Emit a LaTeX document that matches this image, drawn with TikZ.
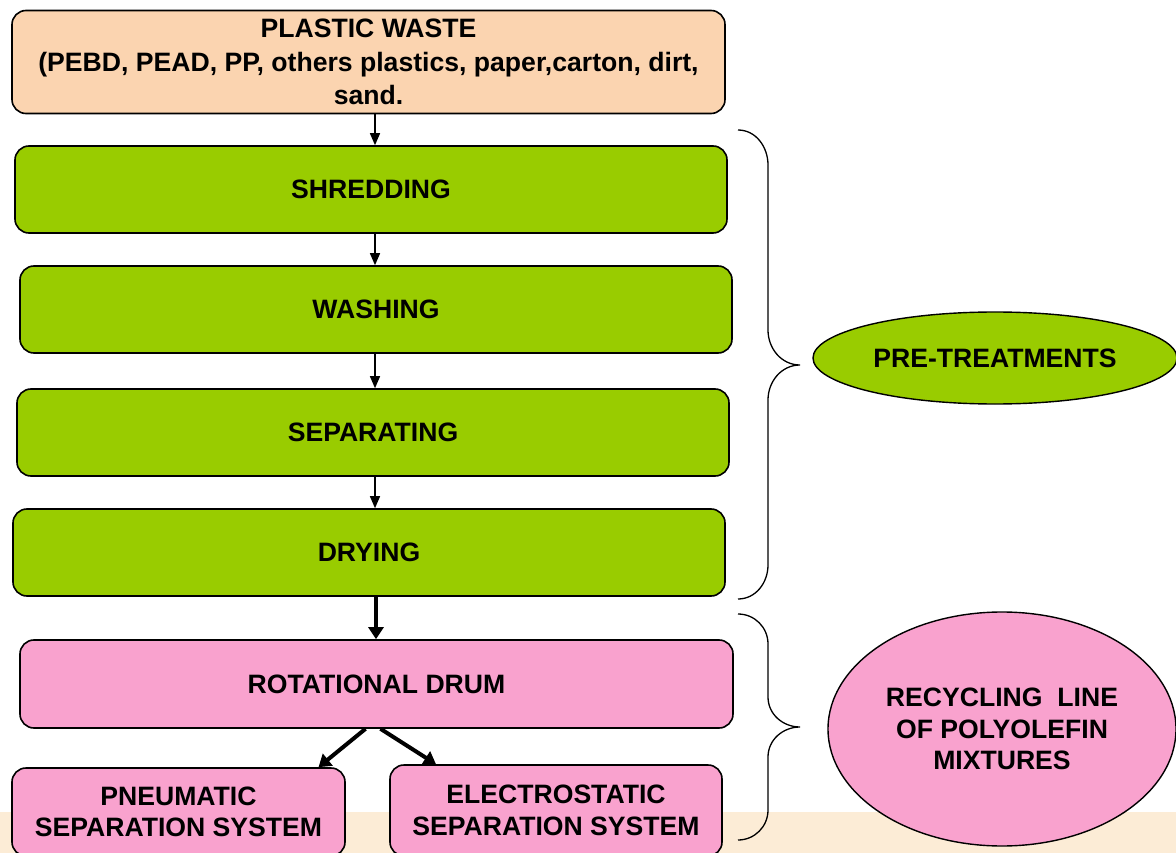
\documentclass[tikz,border=0pt]{standalone}
\usepackage{fontspec}
\setmainfont{Liberation Sans}
\usetikzlibrary{shapes.geometric,arrows.meta}
\definecolor{peach}{RGB}{251,212,176}
\definecolor{lime}{RGB}{153,204,0}
\definecolor{pinkf}{RGB}{249,162,206}
\definecolor{strip}{RGB}{252,236,214}
\begin{document}
\begin{tikzpicture}[x=1pt,y=-1pt,
  box/.style={draw=black,line width=1.6pt,rounded corners=14pt,inner sep=0pt,align=center,
    font=\fontsize{26.6}{31.5}\selectfont\bfseries},
  arr/.style={line width=1.3pt,-{Triangle[length=12pt,width=10pt]}},
  thickarr/.style={line width=4pt,-{Triangle[length=12pt,width=15pt]}},
  brace/.style={line width=1.3pt},
  oval/.style={ellipse,draw=black,line width=1.4pt,inner sep=0pt,align=center,
    font=\fontsize{26.6}{31.5}\selectfont\bfseries}]
\useasboundingbox (0,0) rectangle (1176,853);
\fill[white] (0,0) rectangle (1176,853);
\fill[strip] (0,812) rectangle (1176,853);
\coordinate (ax) at (375,0);
\node[box,fill=peach,minimum width=713pt,minimum height=103pt,
  font=\fontsize{26.6}{33.5}\selectfont\bfseries] (top) at (368.5,62)
  {PLASTIC WASTE\\(PEBD, PEAD, PP, others plastics, paper,carton, dirt,\\sand.};
\node[box,fill=lime,minimum width=712pt,minimum height=87pt] (shred) at (371,189.5) {SHREDDING};
\node[box,fill=lime,minimum width=712pt,minimum height=87pt] (wash) at (376,309.5) {WASHING};
\node[box,fill=lime,minimum width=712pt,minimum height=87pt] (sep) at (373,432.5) {SEPARATING};
\node[box,fill=lime,minimum width=712pt,minimum height=87pt] (dry) at (369,552.5) {DRYING};
\node[box,fill=pinkf,minimum width=713pt,minimum height=88pt] (drum) at (376.5,684) {ROTATIONAL DRUM};
\node[box,fill=pinkf,minimum width=333pt,minimum height=88pt] (pneu) at (178.5,812) {PNEUMATIC\\SEPARATION SYSTEM};
\node[box,fill=pinkf,minimum width=332pt,minimum height=91pt] (elec) at (556,810.5) {ELECTROSTATIC\\SEPARATION SYSTEM};
\draw[arr] (top.south -| ax) -- (shred.north -| ax);
\draw[arr] (shred.south -| ax) -- (wash.north -| ax);
\draw[arr] (wash.south -| ax) -- (sep.north -| ax);
\draw[arr] (sep.south -| ax) -- (dry.north -| ax);
\draw[thickarr] ([xshift=7pt]dry.south) -- ([xshift=-0.5pt]drum.north);
\draw[thickarr] ([xshift=-11pt]drum.south) -- ([xshift=140pt]pneu.north);
\draw[thickarr] ([xshift=4pt]drum.south) -- ([xshift=-120pt]elec.north);
\node[oval,fill=lime,minimum width=364pt,minimum height=92pt] (pre) at (995,358) {PRE-TREATMENTS};
\node[oval,fill=pinkf,minimum width=348pt,minimum height=234pt] (rec) at (1002,729)
  {RECYCLING\ \ LINE\\OF POLYOLEFIN\\MIXTURES};
\coordinate (b1) at (800,365);
\coordinate (b2) at (800,727);
\draw[brace] (738,130) to[out=0,in=90] (768,165) -- (768,330) to[out=-90,in=180] (b1)
  to[out=180,in=90] (768,400) -- (768,565) to[out=-90,in=0] (738,599);
\draw[brace] (738,614) to[out=0,in=90] (768,644) -- (768,697) to[out=-90,in=180] (b2)
  to[out=180,in=90] (768,757) -- (768,810) to[out=-90,in=0] (738,840);
\end{tikzpicture}
\end{document}
